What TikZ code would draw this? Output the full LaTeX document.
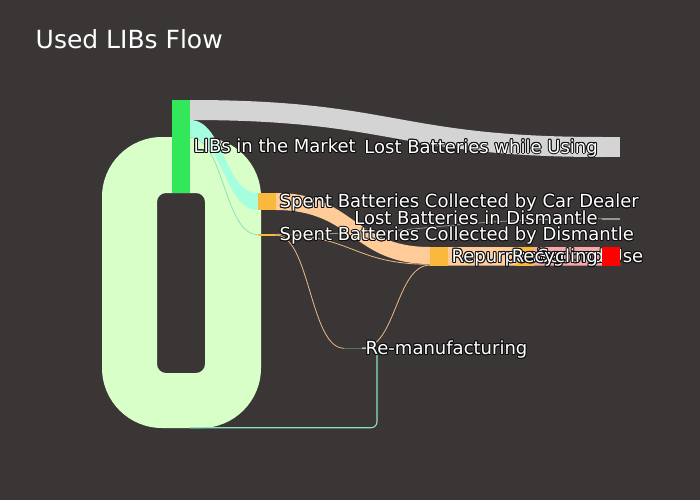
\documentclass[tikz,border=0pt]{standalone}
\usepackage{fontspec}
\newfontfamily\lblfont{DejaVu Sans}
\usetikzlibrary{calc}
\definecolor{bg}{RGB}{58,54,54}
\definecolor{mgreen}{RGB}{50,232,90}
\definecolor{loopc}{RGB}{217,255,200}
\definecolor{cyanc}{RGB}{165,255,222}
\definecolor{cyanthin}{RGB}{140,225,195}
\definecolor{lgray}{RGB}{212,212,212}
\definecolor{orn}{RGB}{250,185,60}
\definecolor{peach}{RGB}{255,204,153}
\definecolor{thinorn}{RGB}{235,185,135}
\definecolor{pinkc}{RGB}{245,170,170}
\definecolor{redc}{RGB}{255,0,0}
\definecolor{remc}{RGB}{85,115,100}
\definecolor{midgray}{RGB}{150,150,150}
\definecolor{outl}{RGB}{15,14,14}
\pgfdeclarelayer{links}
\pgfsetlayers{links,main}
\newcommand\olt[1]{{\color{outl}%
  \rlap{\kern-1pt#1}\rlap{\kern1pt#1}\rlap{\raisebox{1pt}{#1}}\rlap{\raisebox{-1pt}{#1}}%
  \rlap{\kern-.75pt\raisebox{.75pt}{#1}}\rlap{\kern.75pt\raisebox{.75pt}{#1}}%
  \rlap{\kern-.75pt\raisebox{-.75pt}{#1}}\rlap{\kern.75pt\raisebox{-.75pt}{#1}}%
  \rlap{\kern-.5pt#1}\rlap{\kern.5pt#1}\rlap{\raisebox{.5pt}{#1}}\rlap{\raisebox{-.5pt}{#1}}}%
  \textcolor{white}{#1}}
\newcommand\band[4]{%
  \fill[#1] let \p1=#2, \p2=#3, \n1={(\x1+\x2)/2} in
  (\p1) .. controls ({\n1*1pt},\y1) and ({\n1*1pt},\y2) .. (\p2)
  -- ({\x2},{\y2-#4pt}) .. controls ({\n1*1pt},{\y2-#4pt}) and ({\n1*1pt},{\y1-#4pt}) .. ({\x1},{\y1-#4pt}) -- cycle;}
\newcommand\thin[3]{%
  \draw[thinlink,#1] let \p1=#2, \p2=#3, \n1={(\x1+\x2)/2} in
  (\p1) .. controls ({\n1*1pt},\y1) and ({\n1*1pt},\y2) .. (\p2);}
\tikzset{
  sknode/.style={rectangle, draw=none, inner sep=0pt, outer sep=0pt, minimum width=18pt, anchor=north west},
  lblr/.style={anchor=base west, inner sep=0pt, font=\lblfont\fontsize{18}{20}\selectfont},
  lbll/.style={anchor=base east, inner sep=0pt, font=\lblfont\fontsize{18}{20}\selectfont},
  thinlink/.style={line width=0.8pt},
}
\begin{document}
\begin{tikzpicture}[x=1pt,y=-1pt]
\useasboundingbox (0,0) rectangle (700,500);
% nodes
\node[sknode, fill=mgreen, minimum height=93pt] (mkt) at (172,100) {};
\node[sknode, fill=lgray, minimum height=20pt] (lu) at (602,137) {};
\node[sknode, fill=orn, minimum height=17pt] (cd) at (258,193) {};
\node[sknode, fill=orn, minimum height=1.5pt] (dm) at (258,234) {};
\node[sknode, fill=midgray, minimum height=1.5pt] (ld) at (602,218) {};
\node[sknode, fill=orn, minimum height=18.5pt] (rp) at (430,247) {};
\node[sknode, fill=orn, minimum height=18.5pt] (su) at (516,247) {};
\node[sknode, fill=remc, minimum height=1.5pt] (rm) at (344,347.5) {};
\begin{pgfonlayer}{links}
\fill[bg] (0,0) rectangle (700,500);
% self loop of the market
\fill[loopc, even odd rule] [rounded corners=60pt] (102,137) rectangle (261,428)
  [rounded corners=9pt] (157,193) rectangle (205,373);
\draw[thinlink, cyanthin, line width=1.1pt, rounded corners=6pt] (rm.east) -- ++(15,0) -- ++(0,79.5) -- ++(-187,0);
\band{lgray}{(mkt.north east)}{(lu.north west)}{20}
\band{cyanc}{($(mkt.north east)+(0,20)$)}{(cd.north west)}{17}
\thin{cyanthin}{($(mkt.north east)+(0,37.5)$)}{(dm.west)}
\thin{midgray}{($(dm.north east)+(0,0.3)$)}{(ld.west)}
\thin{thinorn}{(dm.east)}{($(rp.south west)+(0,-1.2)$)}
\thin{thinorn}{($(dm.south east)+(0,-0.3)$)}{(rm.west)}
\thin{thinorn}{(rm.east)}{($(rp.south west)+(0,-0.4)$)}
\band{peach}{(cd.north east)}{(rp.north west)}{17}
\band{peach}{(rp.north east)}{(su.north west)}{18.5}
\band{pinkc}{(su.north east)}{($(su.north east)+(86,0)$)}{18.5}
\end{pgfonlayer}
% title
\node[anchor=base west, inner sep=0pt, text=white, font=\lblfont\fontsize{25}{28}\selectfont] (title) at (35.5,49) {Used LIBs Flow};
% labels
\node[lblr] (mkt-l) at ($(mkt.east)+(3.5,6.2)$) {\olt{LIBs in the Market}};
\node[lbll] (lu-l) at ($(lu.west)+(-4,6.2)$) {\olt{Lost Batteries while Using}};
\node[lblr] (cd-l) at ($(cd.east)+(3.5,6.2)$) {\olt{Spent Batteries Collected by Car Dealer}};
\node[lbll] (ld-l) at ($(ld.west)+(-4,6.2)$) {\olt{Lost Batteries in Dismantle}};
\node[lblr] (dm-l) at ($(dm.east)+(3.5,6.2)$) {\olt{Spent Batteries Collected by Dismantle}};
\node[lblr] (rm-l) at ($(rm.east)+(3.5,6.2)$) {\olt{Re-manufacturing}};
\node[lblr] (rp-l) at ($(rp.east)+(3.5,6.2)$) {\olt{Repurposing}};
\node[lblr] (su-l) at ($(su.east)+(3.5,6.2)$) {\olt{Second Use}};
\node[sknode, fill=redc, minimum height=18.5pt] (rc) at (602,247) {};
\node[lbll] (rc-l) at ($(rc.west)+(-4,6.2)$) {\olt{Recycling}};
\end{tikzpicture}
\end{document}
